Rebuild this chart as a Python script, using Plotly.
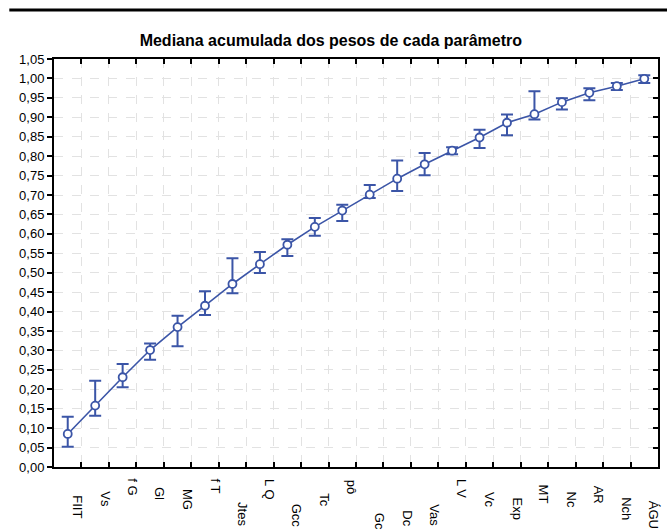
import plotly.graph_objects as go

# Parameters (x categories) and cumulative median weights with their error limits
parameters = ["FIIT", "Vs", "f G", "Gl", "MG", "f T", "Jtes", "L Q", "Gcc", "Tc", "pô",
              "Gc", "Dc", "Vas", "L V", "Vc", "Exp", "MT", "Nc", "AR", "Nch", "ÁGU"]
median_cum = [0.085, 0.158, 0.231, 0.301, 0.360, 0.415, 0.471, 0.522, 0.572, 0.618, 0.660,
              0.701, 0.742, 0.779, 0.814, 0.848, 0.886, 0.908, 0.939, 0.963, 0.980, 0.999]
upper_lim = [0.129, 0.222, 0.265, 0.318, 0.389, 0.452, 0.537, 0.553, 0.586, 0.641, 0.675,
             0.726, 0.789, 0.808, 0.823, 0.868, 0.907, 0.967, 0.949, 0.975, 0.988, 1.008]
lower_lim = [0.052, 0.132, 0.205, 0.276, 0.311, 0.391, 0.447, 0.499, 0.543, 0.595, 0.633,
             0.692, 0.710, 0.751, 0.805, 0.821, 0.854, 0.894, 0.920, 0.944, 0.970, 0.988]

# vertical drop (px below the axis) of each rotated category label
label_drop = [40, 32.5, 20, 26, 32.5, 18.5, 47.5, 22, 49, 33, 20,
              54.5, 51.5, 48, 21, 32.5, 41.5, 27, 32.5, 28, 42, 48]

BLUE = "#3b55a7"
FONT = "Liberation Sans, Arial, sans-serif"

err_plus = [u - m for u, m in zip(upper_lim, median_cum)]
err_minus = [m - l for m, l in zip(median_cum, lower_lim)]

fig = go.Figure()
fig.add_trace(go.Scatter(
    x=parameters, y=median_cum, mode="lines+markers",
    line=dict(color=BLUE, width=1.6),
    marker=dict(symbol="circle", size=8, color="white", line=dict(color=BLUE, width=1.8)),
    error_y=dict(type="data", symmetric=False, array=err_plus, arrayminus=err_minus,
                 color=BLUE, thickness=2, width=6),
    showlegend=False,
))
# helper trace so the right-hand tick axis is drawn
fig.add_trace(go.Scatter(x=[], y=[], yaxis="y2", showlegend=False, hoverinfo="skip"))

annotations = []
for name, drop in zip(parameters, label_drop):
    annotations.append(dict(
        x=name, xref="x", y=0, yref="paper", text=name, showarrow=False,
        textangle=90, xanchor="center", yanchor="middle",
        xshift=10, yshift=-drop,
        font=dict(family=FONT, size=13, color="black"),
    ))

fig.update_layout(
    width=667, height=530,
    margin=dict(l=54, r=7, t=59, b=63),
    paper_bgcolor="white", plot_bgcolor="white",
    separators=",.",
    title=dict(text="<b>Mediana acumulada dos pesos de cada parâmetro</b>",
               x=0.496, xref="container", xanchor="center",
               y=1 - 40 / 530, yref="container", yanchor="middle",
               font=dict(family=FONT, size=16, color="black")),
    xaxis=dict(
        type="category", range=[-0.5, len(parameters) - 0.5],
        tickson="boundaries", ticks="inside", ticklen=5, tickcolor="black", tickwidth=1.5,
        showticklabels=False,
        showline=True, linecolor="black", linewidth=2, mirror="ticks",
        showgrid=True, gridcolor="#e2e2e2", griddash="dash", gridwidth=1,
        zeroline=False,
    ),
    yaxis=dict(
        range=[0, 1.05], dtick=0.05, tick0=0, tickformat=".2f",
        ticks="outside", ticklen=5, tickcolor="black", tickwidth=1.5,
        tickfont=dict(family=FONT, size=13, color="black"),
        showline=True, linecolor="black", linewidth=2, mirror=True,
        showgrid=True, gridcolor="#e2e2e2", griddash="dash", gridwidth=1,
        zeroline=False,
    ),
    yaxis2=dict(
        overlaying="y", side="right", range=[0, 1.05], dtick=0.05, tick0=0,
        ticks="inside", ticklen=5, tickcolor="black", tickwidth=1.5,
        showticklabels=False, showline=False, showgrid=False, zeroline=False,
    ),
    annotations=annotations,
    shapes=[dict(type="line", xref="paper", yref="paper",
                 x0=-0.074, x1=1.02, y0=1.12, y1=1.12,
                 line=dict(color="black", width=3))],
)

fig.write_html("out.html")
